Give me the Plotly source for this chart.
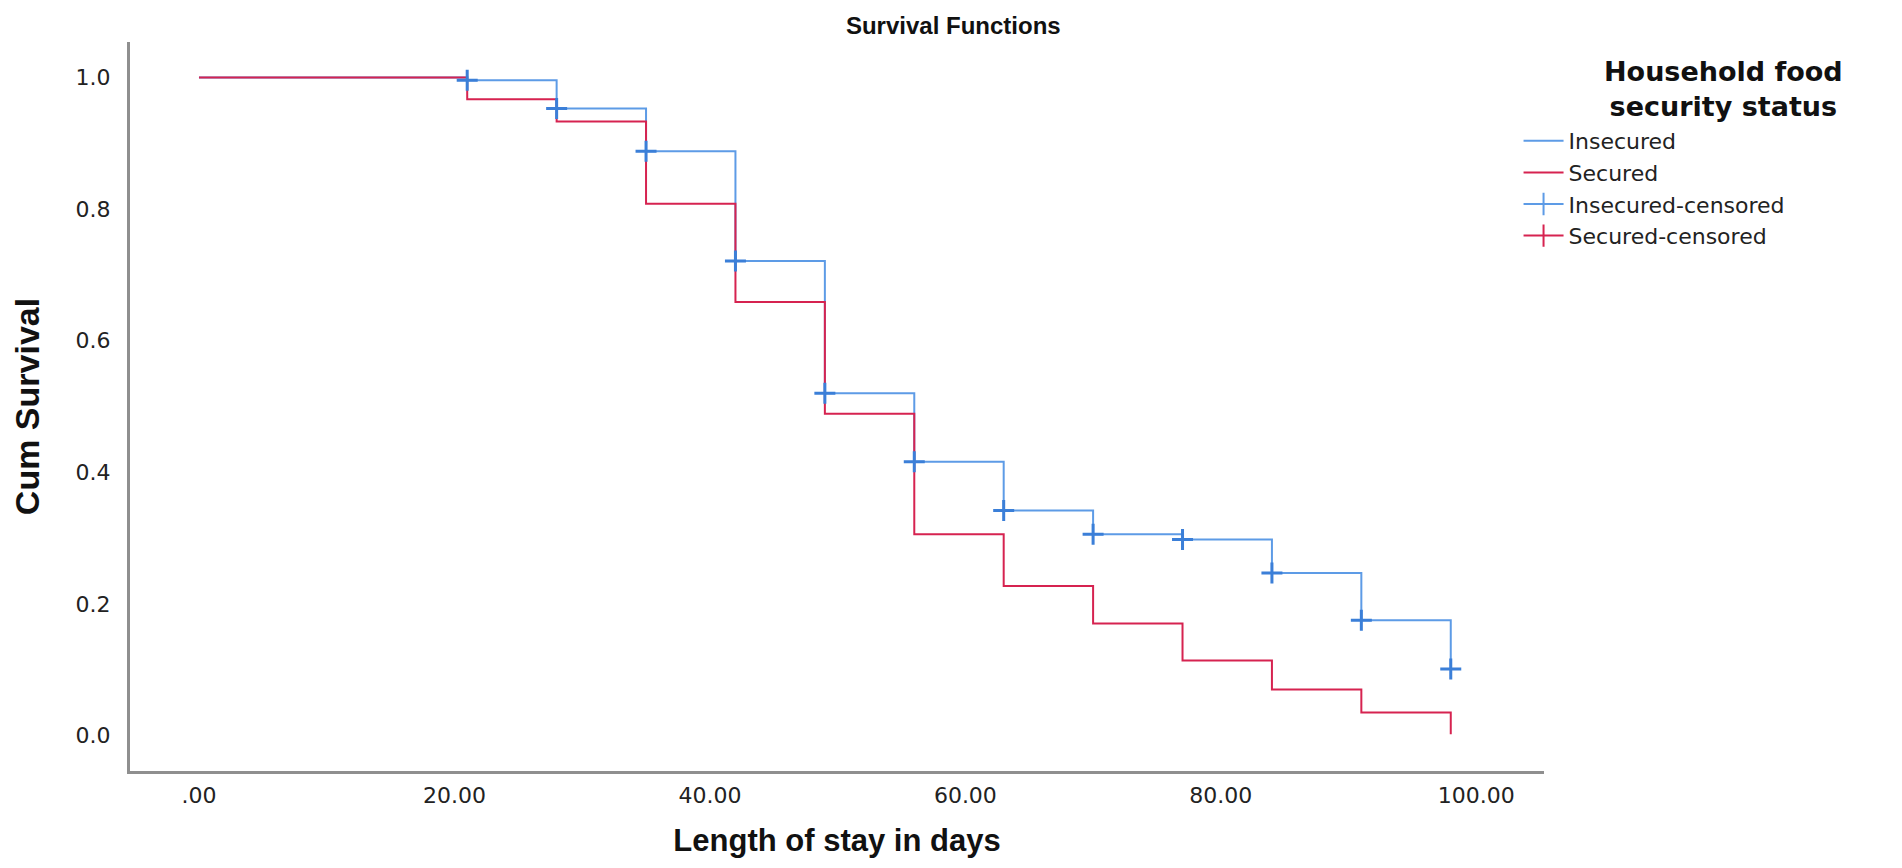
import plotly.graph_objects as go

# Kaplan-Meier estimates (weekly steps)
times = [0, 21, 28, 35, 42, 49, 56, 63, 70, 77, 84, 91, 98]
insecured_surv = [1.0, 0.996, 0.953, 0.888, 0.721, 0.520, 0.416, 0.342, 0.306, 0.298, 0.247, 0.175, 0.101]
secured_surv = [1.0, 0.967, 0.933, 0.808, 0.659, 0.489, 0.306, 0.227, 0.170, 0.114, 0.070, 0.035, 0.002]

insecured_censor_times = [21, 28, 35, 42, 49, 56, 63, 70, 77, 84, 91, 98]
insecured_censor_surv = [0.996, 0.953, 0.888, 0.721, 0.520, 0.416, 0.342, 0.306, 0.298, 0.247, 0.175, 0.101]

x_ticks = [0, 20, 40, 60, 80, 100]
x_tick_labels = [".00", "20.00", "40.00", "60.00", "80.00", "100.00"]
y_ticks = [0.0, 0.2, 0.4, 0.6, 0.8, 1.0]
y_tick_labels = ["0.0", "0.2", "0.4", "0.6", "0.8", "1.0"]
legend_heading = "Household food<br>security status"

BLUE = "#5d9be6"
BLUE_MARK = "#3b7fd8"
RED = "#d62350"
FONT = "Arial, Liberation Sans, sans-serif"
WIDE = "DejaVu Sans, Verdana, sans-serif"

fig = go.Figure()

fig.add_trace(go.Scatter(
    x=times, y=insecured_surv, mode="lines", line_shape="hv",
    line=dict(color=BLUE, width=2), name="Insecured",
))
fig.add_trace(go.Scatter(
    x=times, y=secured_surv, mode="lines", line_shape="hv",
    line=dict(color=RED, width=2), name="Secured",
))
fig.add_trace(go.Scatter(
    x=insecured_censor_times, y=insecured_censor_surv, mode="markers",
    marker=dict(symbol="cross-thin", size=15, line=dict(color=BLUE_MARK, width=3)),
    showlegend=False, name="Insecured-censored",
))
# legend entries for the censored marks
fig.add_trace(go.Scatter(
    x=[None], y=[None], mode="lines+markers", name="Insecured-censored",
    line=dict(color=BLUE, width=2),
    marker=dict(symbol="line-ns", size=20, line=dict(color=BLUE, width=2)),
))
fig.add_trace(go.Scatter(
    x=[None], y=[None], mode="lines+markers", name="Secured-censored",
    line=dict(color=RED, width=2),
    marker=dict(symbol="line-ns", size=20, line=dict(color=RED, width=2)),
))

# legend heading sits centred above the entries
fig.add_annotation(
    text=f"<b>{legend_heading}</b>", xref="paper", yref="paper",
    x=1.1266, y=0.935, xanchor="center", yanchor="middle", align="center",
    showarrow=False, font=dict(family=WIDE, size=27, color="#111"),
)

axis_common = dict(
    showline=True, linecolor="#8f8f8f", linewidth=3, showgrid=False,
    zeroline=False, ticks="", tickfont=dict(family=WIDE, size=22, color="#222"),
)

fig.update_layout(
    width=1902, height=868,
    paper_bgcolor="white", plot_bgcolor="white",
    margin=dict(l=122, r=366, t=34, b=105),
    font=dict(family=FONT, color="#111"),
    title=dict(text="<b>Survival Functions</b>", x=0.497, xanchor="center",
               y=0.98, yanchor="middle", font=dict(size=24, color="#111")),
    xaxis=dict(
        range=[-5.4, 105.3], tickvals=x_ticks, ticktext=x_tick_labels,
        ticklabelstandoff=3,
        title=dict(text="<b>Length of stay in days</b>", font=dict(size=31, color="#111"), standoff=22),
        **axis_common,
    ),
    yaxis=dict(
        range=[-0.054, 1.054], tickvals=y_ticks, ticktext=y_tick_labels,
        ticklabelstandoff=12,
        title=dict(text="<b>Cum Survival</b>", font=dict(size=34, color="#111"), standoff=26),
        **axis_common,
    ),
    legend=dict(
        x=0.982, xanchor="left", y=0.893, yanchor="top",
        font=dict(family=WIDE, size=22, color="#222"),
        itemwidth=40, tracegroupgap=0,
    ),
    showlegend=True,
)

fig.write_html("out.html")
